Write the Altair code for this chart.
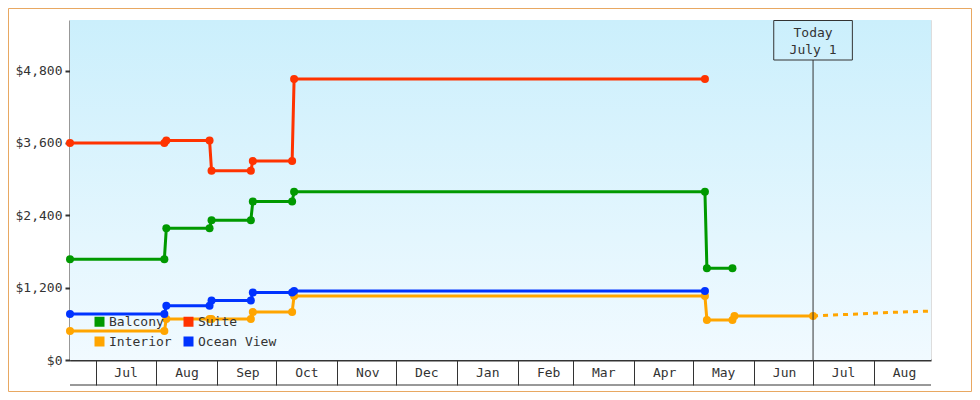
import altair as alt
import pandas as pd

# ---------------- data ----------------
categories = ["Balcony", "Suite", "Interior", "Ocean View"]
colors = ["#009900", "#ff3300", "#ffa500", "#0033ff"]
# legend fills column by column: Balcony/Interior in column 1, Suite/Ocean View in column 2
legend_order = ["Balcony", "Interior", "Suite", "Ocean View"]

balcony_dates = ["2022-06-18", "2022-08-05", "2022-08-06", "2022-08-28", "2022-08-29",
                 "2022-09-18", "2022-09-19", "2022-10-09", "2022-10-10", "2023-05-07",
                 "2023-05-08", "2023-05-21"]
balcony_prices = [1670, 1670, 2185, 2185, 2320, 2320, 2630, 2630, 2790, 2790, 1520, 1520]

suite_dates = ["2022-06-18", "2022-08-05", "2022-08-06", "2022-08-28", "2022-08-29",
               "2022-09-18", "2022-09-19", "2022-10-09", "2022-10-10", "2023-05-07"]
suite_prices = [3600, 3600, 3640, 3640, 3140, 3140, 3300, 3300, 4660, 4660]

interior_dates = ["2022-06-18", "2022-08-05", "2022-08-06", "2022-08-28", "2022-08-29",
                  "2022-09-18", "2022-09-19", "2022-10-09", "2022-10-10", "2023-05-07",
                  "2023-05-08", "2023-05-21", "2023-05-22", "2023-07-01"]
interior_prices = [480, 480, 680, 680, 680, 680, 795, 795, 1060, 1060, 665, 665, 730, 730]

ocean_dates = ["2022-06-18", "2022-08-05", "2022-08-06", "2022-08-28", "2022-08-29",
               "2022-09-18", "2022-09-19", "2022-10-09", "2022-10-10", "2023-05-07"]
ocean_prices = [765, 765, 900, 900, 985, 985, 1120, 1120, 1145, 1145]

forecast_dates = ["2023-07-01", "2023-08-10", "2023-08-30"]
forecast_prices = [730, 790, 812]

today_date = "2023-07-01"
today_lines = ["Today", "July 1"]
box_dates = ["2023-06-11", "2023-07-21"]

y_ticks = [0, 1200, 2400, 3600, 4800]
y_max = 5640
x_start = dict(year=2022, month=6, date=18)
x_end = dict(year=2023, month=8, date=30)

# ---------------- tables ----------------
rows = []
for name, ds, ps in [("Balcony", balcony_dates, balcony_prices),
                     ("Suite", suite_dates, suite_prices),
                     ("Interior", interior_dates, interior_prices),
                     ("Ocean View", ocean_dates, ocean_prices)]:
    for d, p in zip(ds, ps):
        rows.append({"cabin": name, "date": d, "price": p})
df = pd.DataFrame(rows)
fc = pd.DataFrame({"cabin": "Interior", "date": forecast_dates, "price": forecast_prices})

W, H = 861, 340
FONT = "DejaVu Sans Mono"
TXT = "#333333"

color_of = dict(zip(categories, colors))
xscale = alt.Scale(type="utc",
                   domain=[alt.DateTime(utc=True, **x_start), alt.DateTime(utc=True, **x_end)])
yscale = alt.Scale(domain=[0, y_max], nice=False, zero=True)
cscale = alt.Scale(domain=legend_order, range=[color_of[c] for c in legend_order])

xaxis = alt.Axis(title=None, format="%b", tickCount={"interval": "month", "step": 1},
                 labelOffset=30, labelPadding=-19, tickSize=25, tickWidth=1,
                 tickColor=TXT, domainColor=TXT, domainWidth=2, grid=False,
                 labelFlush=False, labelOverlap=False, labelBound=False,
                 labelFont=FONT, labelFontSize=13, labelColor=TXT)
yaxis = alt.Axis(title=None, values=y_ticks, format="$,d", grid=False,
                 tickColor=TXT, tickWidth=2, tickSize=5, domainColor=TXT, domainWidth=2,
                 labelFont=FONT, labelFontSize=13, labelColor=TXT, labelPadding=3)

legend = alt.Legend(title=None, orient="none", legendX=23, legendY=295,
                    columns=2, symbolType="square", symbolSize=100,
                    symbolStrokeWidth=0, labelFont=FONT, labelFontSize=13,
                    labelColor=TXT, labelOffset=3, columnPadding=10,
                    rowPadding=6, padding=0)

one = alt.Data(values=[{}])

bg = alt.Chart(one).mark_rect(
    fill={"gradient": "linear", "x1": 0, "y1": 0, "x2": 0, "y2": 1,
          "stops": [{"offset": 0, "color": "#cbeffc"}, {"offset": 1, "color": "#f1faff"}]}
).encode(x=alt.value(0), x2=alt.value(W), y=alt.value(0), y2=alt.value(H))

bottom_line = alt.Chart(one).mark_rule(color=TXT, strokeWidth=1).encode(
    x=alt.value(0), x2=alt.value(W), y=alt.value(H + 25))

base = alt.Chart(df).encode(
    x=alt.X("date:T", scale=xscale, axis=xaxis),
    y=alt.Y("price:Q", scale=yscale, axis=yaxis),
)

lines = base.mark_line(strokeWidth=3).encode(
    color=alt.Color("cabin:N", scale=cscale, legend=legend),
    detail="cabin:N",
)

points = base.mark_circle(size=64, opacity=1).encode(
    color=alt.Color("cabin:N", scale=cscale, legend=legend),
)

forecast = alt.Chart(fc).mark_line(strokeWidth=3, strokeDash=[5, 5]).encode(
    x=alt.X("date:T", scale=xscale),
    y=alt.Y("price:Q", scale=yscale),
    color=alt.Color("cabin:N", scale=cscale, legend=legend),
)

tdf = pd.DataFrame({"date": [today_date]})
today_rule = alt.Chart(tdf).mark_rule(color=TXT, strokeWidth=1).encode(
    x=alt.X("date:T", scale=xscale), y=alt.value(40), y2=alt.value(H))

bdf = pd.DataFrame({"d1": [box_dates[0]], "d2": [box_dates[1]]})
today_box = alt.Chart(bdf).mark_rect(fillOpacity=0, stroke=TXT, strokeWidth=1).encode(
    x=alt.X("d1:T", scale=xscale), x2="d2:T", y=alt.value(0.5), y2=alt.value(40))

t1 = alt.Chart(tdf).mark_text(font=FONT, fontSize=13, color=TXT, baseline="middle").encode(
    x=alt.X("date:T", scale=xscale), y=alt.value(12.5), text=alt.value(today_lines[0]))
t2 = alt.Chart(tdf).mark_text(font=FONT, fontSize=13, color=TXT, baseline="middle").encode(
    x=alt.X("date:T", scale=xscale), y=alt.value(30), text=alt.value(today_lines[1]))

border = alt.Chart(one).mark_rect(fillOpacity=0, stroke="#e8a862", strokeWidth=1).encode(
    x=alt.value(-61.5), x2=alt.value(W + 40.5), y=alt.value(-11.5), y2=alt.value(H + 31.5))

chart = alt.layer(
    bg, bottom_line, lines, points, forecast, today_rule, today_box, t1, t2, border
).properties(
    width=W, height=H,
    autosize=alt.AutoSizeParams(type="none"),
    padding={"left": 62, "top": 12, "right": 41, "bottom": 32},
).configure_view(stroke=None).configure(background="white")

chart.save("out.html", embed_options={"renderer": "svg", "actions": False})
